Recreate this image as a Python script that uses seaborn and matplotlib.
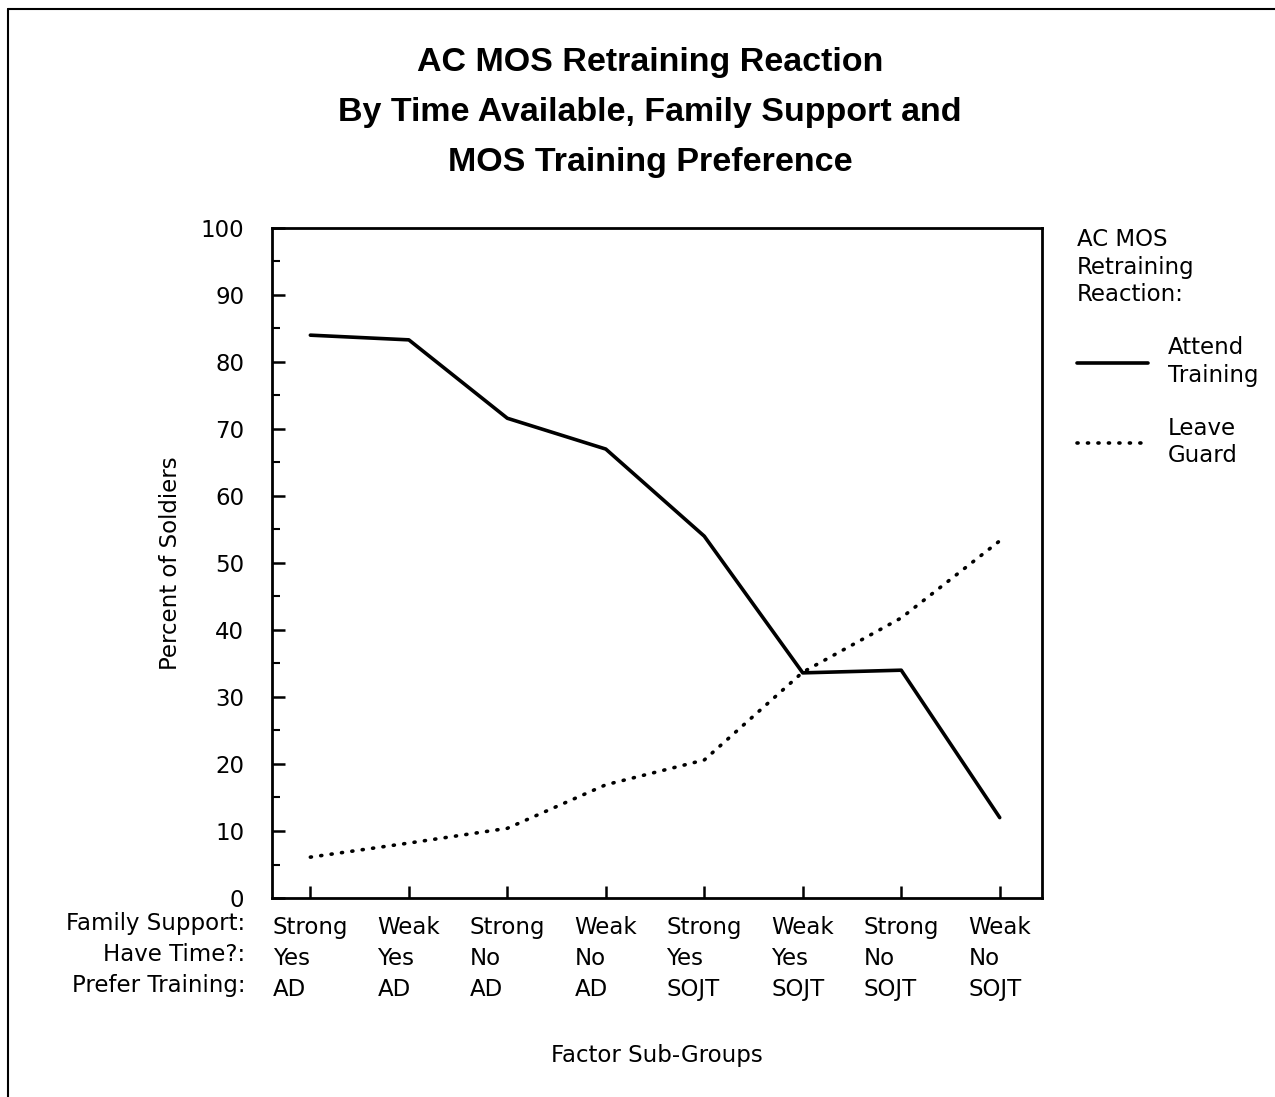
import numpy as np
import pandas as pd
import matplotlib
matplotlib.use("Agg")
from matplotlib import pyplot as plt
from matplotlib.lines import Line2D
from matplotlib.ticker import MultipleLocator
import seaborn as sns

# Data
family_support = ["Strong", "Weak", "Strong", "Weak", "Strong", "Weak", "Strong", "Weak"]
have_time = ["Yes", "Yes", "No", "No", "Yes", "Yes", "No", "No"]
prefer_training = ["AD", "AD", "AD", "AD", "SOJT", "SOJT", "SOJT", "SOJT"]
attend_training = [84, 83.3, 71.6, 67, 54, 33.6, 34, 12]
leave_guard = [6.1, 8.2, 10.4, 16.9, 20.6, 33.7, 41.8, 53.3]

groups = [f"{f}\n{h}\n{p}" for f, h, p in zip(family_support, have_time, prefer_training)]
df = pd.DataFrame({
    "Group": groups * 2,
    "Percent": attend_training + leave_guard,
    "Reaction": ["Attend\nTraining"] * 8 + ["Leave\nGuard"] * 8,
})

sns.set_theme(style="white")
plt.rcParams["font.family"] = ["DejaVu Sans"]
plt.rcParams["text.color"] = "black"
plt.rcParams["axes.labelcolor"] = "black"
plt.rcParams["xtick.color"] = "black"
plt.rcParams["ytick.color"] = "black"

fs = 16.5

fig = plt.figure(figsize=(12.75, 10.97), dpi=100)
ax = fig.add_axes([0.2133, 0.1814, 0.604, 0.6108])

sns.lineplot(data=df, x="Group", y="Percent", hue="Reaction", style="Reaction",
             palette=["black", "black"], dashes=["", (0.3, 2.6)],
             linewidth=2.6, ax=ax, sort=False)
for ln in ax.get_lines():
    ln.set_dash_capstyle("round")

ax.set_xlim(-0.39, 7.43)
ax.set_ylim(0, 100)
ax.yaxis.set_major_locator(MultipleLocator(10))
ax.yaxis.set_minor_locator(MultipleLocator(5))
ax.tick_params(axis="y", which="major", direction="in", length=9, width=1.8,
               labelsize=fs, pad=20, left=True)
ax.tick_params(axis="y", which="minor", direction="in", length=6, width=1.5, left=True)
ax.tick_params(axis="x", direction="in", length=9, width=1.8, labelsize=fs, pad=13,
               bottom=True)
for lab in ax.get_xticklabels():
    lab.set_multialignment("left")
    lab.set_linespacing(1.45)
for sp in ax.spines.values():
    sp.set_color("black")
    sp.set_linewidth(2)

ax.set_ylabel("Percent of Soldiers", fontsize=fs, labelpad=13)
ax.set_xlabel("Factor Sub-Groups", fontsize=fs, labelpad=31)
ax.text(-0.035, -0.021, "Family Support:\nHave Time?:\nPrefer Training:",
        transform=ax.transAxes, ha="right", va="top", fontsize=fs,
        multialignment="right", linespacing=1.45)

leg = ax.legend(title="AC MOS\nRetraining\nReaction:", loc="upper left",
                bbox_to_anchor=(1.018, 1.03), frameon=False, fontsize=fs,
                title_fontsize=fs, handlelength=3.1, handletextpad=0.9,
                labelspacing=1.3, alignment="left")
leg.get_title().set_linespacing(1.25)
for t in leg.get_texts():
    t.set_linespacing(1.25)

title_font = ["Liberation Sans Narrow", "Liberation Sans", "DejaVu Sans"]
title_lines = ["AC MOS Retraining Reaction",
               "By Time Available, Family Support and",
               "MOS Training Preference"]
for i, line in enumerate(title_lines):
    fig.text(0.51, 1 - (62 + 50 * i) / 1097, line, ha="center", va="center",
             fontsize=24.5, fontweight="bold", family=title_font)

# scanned page border
fig.add_artist(Line2D([0.006, 1.0], [0.992, 0.992], transform=fig.transFigure,
                      color="black", lw=1.5))
fig.add_artist(Line2D([0.006, 0.006], [0.0, 0.992], transform=fig.transFigure,
                      color="black", lw=1.5))

fig.savefig("out.png", dpi=100, facecolor="white")
